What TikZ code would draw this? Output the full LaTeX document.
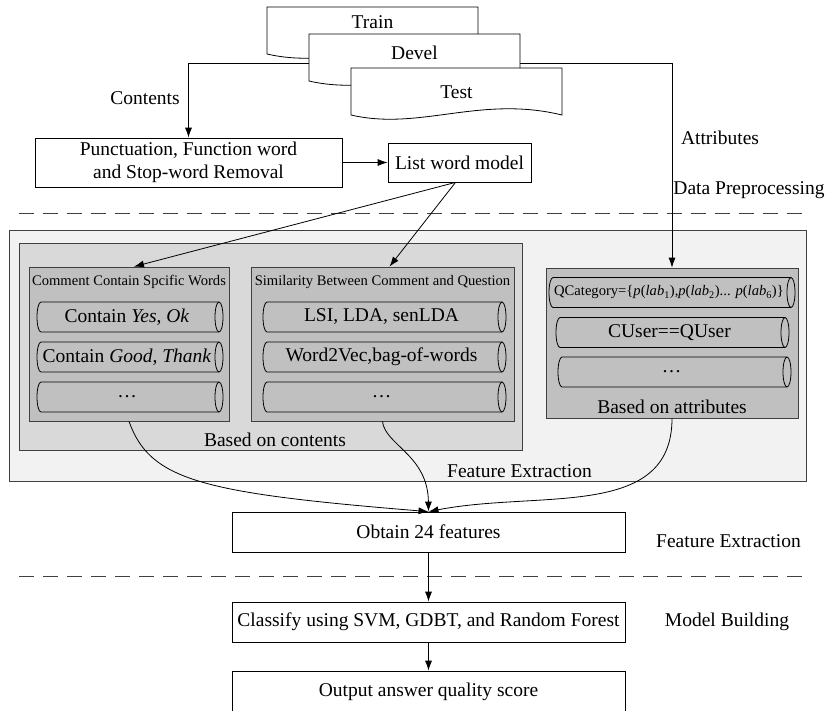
\documentclass[tikz,border=0pt]{standalone}
\usepackage{fontspec}
\setmainfont{Liberation Serif}
\usetikzlibrary{arrows.meta,positioning,calc}
\definecolor{bigbg}{HTML}{F2F2F2}
\definecolor{midbg}{HTML}{D9D9D9}
\definecolor{boxbg}{HTML}{C0C0C0}
\definecolor{edgegray}{HTML}{404040}
% lying cylinder: name, x, y, width, text
\newcommand{\cylbox}[5]{%
	\filldraw[fill=boxbg] ({#2-#4/2+4},{#3-15}) arc[start angle=90,end angle=270,x radius=4pt,y radius=15pt]
		-- ({#2+#4/2-4},{#3+15}) arc[start angle=-90,end angle=90,x radius=4pt,y radius=15pt] -- cycle;
	\draw ({#2+#4/2-4},{#3-15}) arc[start angle=90,end angle=270,x radius=4pt,y radius=15pt];
	\node[inner sep=0pt] (#1) at ({#2-3},#3) {#5};}

\begin{document}
\begin{tikzpicture}[x=1pt,y=-1pt,line width=0.8pt,
	font=\fontsize{19.5}{23}\selectfont,
	arr/.style={-{Latex[length=10pt,width=7pt]}},
	wbox/.style={draw,fill=white,inner sep=0pt,align=center},
	gbox/.style={draw=edgegray,inner sep=0pt},
	small/.style={font=\fontsize{14.6}{17}\selectfont},
	dashline/.style={edgegray,dash pattern=on 15pt off 9pt}]
		\useasboundingbox (0,0) rectangle (827,710);
		% data files
		\draw[fill=white] (267,7) -- (478,7) -- (478,54) .. controls (396,34) and (336,70) .. (267,54) -- cycle;
		\node (train) at (372.5,22) {Train};
		\draw[fill=white] (309,34) -- (520,34) -- (520,81) .. controls (438,61) and (378,97) .. (309,81) -- cycle;
		\node (devel) at (414.5,53) {Devel};
		\coordinate (devel-w) at (309,63);
		\coordinate (devel-e) at (520,63);
		\draw[fill=white] (351,68) -- (562,68) -- (562,115) .. controls (480,95) and (420,131) .. (351,115) -- cycle;
		\node (test) at (456.5,92) {Test};
		% preprocessing
		\node[wbox,minimum width=307pt,minimum height=49pt] (punct) at (188.5,162.5) {Punctuation, Function word\\and Stop-word Removal};
		\node[wbox,minimum width=143pt,minimum height=39pt] (list) at (459.5,162.5) {List word model};
		\node (contentslab) at (145,98) {Contents};
		\node (attrlab) at (720,138) {Attributes};
		\node (prelab) at (749,190) {Data Preprocessing};
		\draw[dashline] (19,213) -- (805,213);
		% feature extraction
		\node[gbox,fill=bigbg,minimum width=797pt,minimum height=251pt] (featbox) at (407.5,355.5) {};
		\node[gbox,fill=midbg,minimum width=503pt,minimum height=207pt] (contents) at (270.5,346.5) {};
		\node[gbox,fill=boxbg,minimum width=200pt,minimum height=154pt] (comment) at (129,344) {};
		\node[gbox,fill=boxbg,minimum width=263pt,minimum height=154pt] (simil) at (382.5,344) {};
		\node[gbox,fill=boxbg,minimum width=252pt,minimum height=150pt] (attr) at (672,343) {};
		\node[small] (commenttitle) at (129,282) {Comment Contain Spcific Words};
		\node[small] (similtitle) at (382.5,282) {Similarity Between Comment and Question};
		\cylbox{yesok}{130}{317}{186}{Contain \textit{Yes}, \textit{Ok}}
		\cylbox{good}{130}{357}{186}{Contain \textit{Good}, \textit{Thank}}
		\cylbox{cdots}{130}{397}{186}{\ldots}
		\cylbox{lsi}{384.5}{317}{243}{LSI, LDA, senLDA}
		\cylbox{w2v}{384.5}{357}{243}{Word2Vec,bag-of-words}
		\cylbox{sdots}{384.5}{397}{243}{\ldots}
		\cylbox{qcat}{672}{292.5}{246}{\small\fontsize{14.6}{17}\selectfont QCategory=\{\textit{p}(\textit{lab}\textsubscript{1}),\textit{p}(\textit{lab}\textsubscript{2})... \textit{p}(\textit{lab}\textsubscript{6})\}}
		\cylbox{cuser}{672.5}{332.5}{233}{CUser==QUser}
		\cylbox{adots}{674.5}{372}{233}{\ldots}
		\node (contlab) at (275,440) {Based on contents};
		\node (attrbase) at (672,407) {Based on attributes};
		\node (featlab) at (519.5,471) {Feature Extraction};
		% model
		\node[wbox,minimum width=393pt,minimum height=40pt] (obtain) at (428.5,532) {Obtain 24 features};
		\node (featlab2) at (728.5,541) {Feature Extraction};
		\draw[dashline] (19,576) -- (805,576);
		\node[wbox,minimum width=393pt,minimum height=40pt] (classify) at (428.5,622) {Classify using SVM, GDBT, and Random Forest};
		\node (modellab) at (727,622) {Model Building};
		\node[wbox,minimum width=393pt,minimum height=42pt] (output) at (428.5,692) {Output answer quality score};
		% connectors
		\draw[arr] (devel-w) -| (punct);
		\draw[arr] (devel-e) -| (attr);
		\draw[arr] (punct) -- (list);
		\draw[arr] ($(list.south)+(-4,0)$) -- ($(comment.north)+(5,0)$);
		\draw[arr] ($(list.south)+(-4,0)$) -- ($(simil.north)+(7,0)$);
		\draw[arr] (comment.south) .. controls (150,480) and (200,493) .. (obtain.north);
		\draw[arr] (simil.south) .. controls (385,445) and (428,455) .. (obtain.north);
		\draw[arr] (attr.south) .. controls (672,520) and (540,490) .. (obtain.north);
		\draw[arr] (obtain) -- (classify);
		\draw[arr] (classify) -- (output);
	\end{tikzpicture}
\end{document}
